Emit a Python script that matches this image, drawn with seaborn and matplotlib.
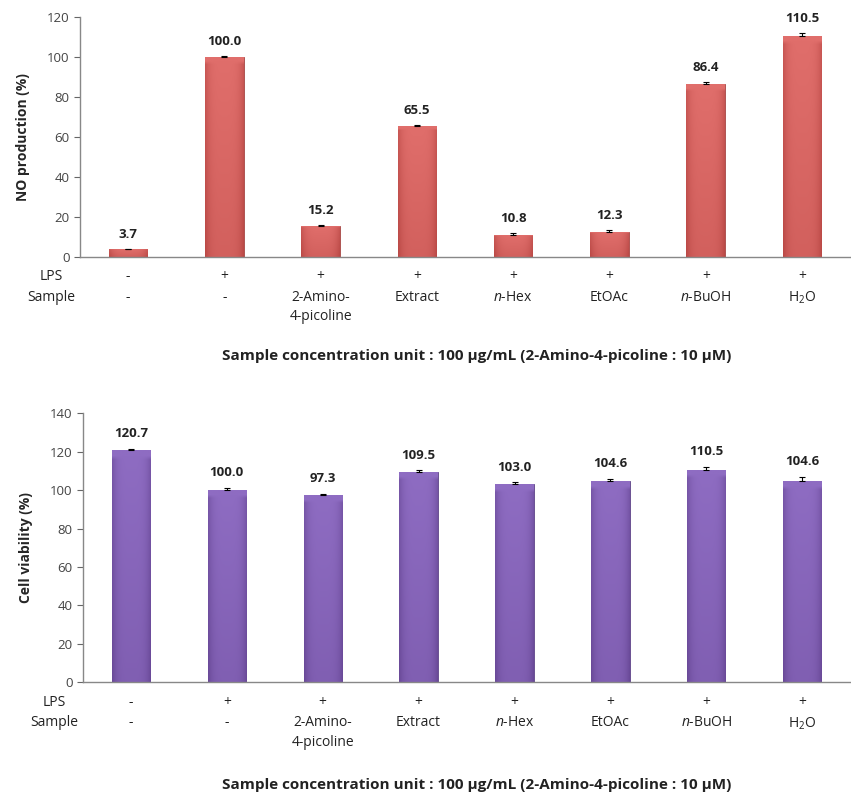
import numpy as np
import pandas as pd
import matplotlib
matplotlib.use('Agg')
import matplotlib.pyplot as plt
import matplotlib.transforms as mtransforms
from matplotlib.colors import LinearSegmentedColormap
import seaborn as sns

# ── data ───────────────────────────────────────────────────────────────────
GROUPS      = ['ctrl', 'lps', 'amino', 'extract', 'hex', 'etoac', 'buoh', 'h2o']
LPS_ROW     = ['-', '+', '+', '+', '+', '+', '+', '+']
SAMPLE_ROW  = ['-', '-', '2-Amino-\n4-picoline', 'Extract', '$n$-Hex', 'EtOAc',
               '$n$-BuOH', 'H$_2$O']
NO_VALUES   = [3.7, 100.0, 15.2, 65.5, 10.8, 12.3, 86.4, 110.5]
NO_ERR      = [0.3, 0.5, 0.5, 0.3, 1.2, 1.0, 1.0, 1.5]
VIA_VALUES  = [120.7, 100.0, 97.3, 109.5, 103.0, 104.6, 110.5, 104.6]
VIA_ERR     = [0.8, 1.2, 0.8, 0.8, 1.0, 1.2, 1.5, 2.5]
FOOTNOTE    = 'Sample concentration unit : 100 µg/mL (2-Amino-4-picoline : 10 µM)'

sns.set_style('ticks')
plt.rcParams['font.family'] = ['Open Sans', 'DejaVu Sans']
plt.rcParams['mathtext.fontset'] = 'custom'
plt.rcParams['mathtext.rm'] = 'Open Sans'
plt.rcParams['mathtext.it'] = 'Open Sans:italic'

fig = plt.figure(figsize=(8.51, 7.95), dpi=100)
ax_top = fig.add_axes([0.094, 0.677, 0.905, 0.302])
ax_bot = fig.add_axes([0.0975, 0.142, 0.9015, 0.338])


def shade_bars(ax, light, dark, edge):
    """Excel-ish gradient fill clipped to each bar."""
    cmap = LinearSegmentedColormap.from_list('g', [light, dark])
    for p in ax.patches:
        x0, y0 = p.get_x(), p.get_y()
        w, h = p.get_width(), p.get_height()
        xs = np.linspace(-1, 1, 60)
        ys = np.linspace(0, 1, 60)[:, None]
        grad = 0.6 * np.abs(xs)[None, :] ** 4 + 0.35 * ys
        grad[:2, :] = 0.0     # light top bevel
        im = ax.imshow(grad, cmap=cmap, vmin=0, vmax=1.0, aspect='auto',
                       extent=[x0, x0 + w, y0, y0 + h], origin='upper',
                       zorder=2, interpolation='bilinear')
        im.set_clip_path(p)
        p.set_edgecolor(edge)
        p.set_linewidth(0.6)


def draw_panel(ax, values, errs, ylabel, ymax, light, dark, base, edge):
    df = pd.DataFrame({'group': GROUPS, 'value': values})
    sns.barplot(data=df, x='group', y='value', color=base, width=0.4,
                errorbar=None, ax=ax, zorder=2)
    shade_bars(ax, light, dark, edge)
    xs = np.arange(len(GROUPS))
    ax.errorbar(xs, values, yerr=[np.zeros(len(errs)), errs], fmt='none',
                ecolor='black', elinewidth=0.8, capsize=2.5, capthick=0.8,
                zorder=3)
    for x, v, e in zip(xs, values, errs):
        ax.text(x, v + e + ymax * 0.033, f'{v:.1f}', ha='center', va='bottom',
                fontsize=9.5, fontweight='bold', color='#222222')

    ax.set_xlim(-0.5, len(GROUPS) - 0.5)
    ax.set_ylim(0, ymax)
    ax.set_yticks(np.arange(0, ymax + 1, 20))
    ax.tick_params(axis='y', labelsize=9.5, colors='#666666', length=4,
                   width=0.8, labelcolor='#444444')
    ax.set_xticks([])
    ax.set_xlabel('')
    ax.set_ylabel(ylabel, fontsize=10, fontweight='bold', labelpad=12)
    sns.despine(ax=ax)
    for s in ['left', 'bottom']:
        ax.spines[s].set_color('#888888')
        ax.spines[s].set_linewidth(1.0)

    trans = mtransforms.blended_transform_factory(ax.transData, ax.transAxes)
    axpx = ax.get_window_extent().height
    lps_y = -20 / axpx
    smp_y = -33 / axpx
    ax.text(-0.8, lps_y, 'LPS', transform=trans, ha='center', va='center',
            fontsize=10, color='#222222')
    ax.text(-0.8, smp_y, 'Sample', transform=trans, ha='center', va='top',
            fontsize=10, color='#222222')
    for x, l, s in zip(xs, LPS_ROW, SAMPLE_ROW):
        ax.text(x, lps_y, l, transform=trans, ha='center', va='center',
                fontsize=10, color='#222222')
        ax.text(x, smp_y, s, transform=trans, ha='center', va='top',
                fontsize=10, color='#222222', linespacing=1.4)


draw_panel(ax_top, NO_VALUES, NO_ERR, 'NO production (%)', 120,
           '#E06E6B', '#B84744', '#C0504D', '#A94744')
draw_panel(ax_bot, VIA_VALUES, VIA_ERR, 'Cell viability (%)', 140,
           '#8E6CC2', '#674795', '#7F5BAE', '#5E4389')

fig.text(0.56, 1 - 356 / 795, FOOTNOTE, ha='center', va='center',
         fontsize=11, fontweight='bold', color='#222222')
fig.text(0.56, 1 - 785 / 795, FOOTNOTE, ha='center', va='center',
         fontsize=11, fontweight='bold', color='#222222')

fig.savefig('out.png', dpi=100, facecolor='white')
